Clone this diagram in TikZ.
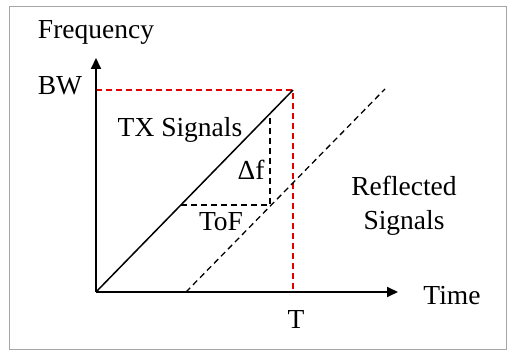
\documentclass[tikz,border=0pt]{standalone}
\usepackage{fontspec}
\setmainfont{Liberation Serif}
\usetikzlibrary{arrows.meta,positioning}

\begin{document}
\begin{tikzpicture}[
  x=1pt, y=-1pt,
  axis/.style={-{Triangle[length=11pt,width=10pt]}, line width=2pt},
  guide/.style={dash pattern=on 6pt off 4pt, draw=red!90!black, line width=1.3pt},
  echo/.style={dash pattern=on 6pt off 4pt, line width=1.3pt},
  chirp/.style={line width=1.5pt},
  lbl/.style={font=\fontsize{27.5}{30}\selectfont, inner sep=0pt, anchor=base}
]
  \useasboundingbox (0,0) rectangle (507,352);
  \draw[gray!70, line width=1pt] (9.5,6.5) rectangle (506.5,349.5);

  % key points of the chirp picture
  \coordinate (o)     at (96,292);
  \coordinate (ytip)  at (96,58);
  \coordinate (xtip)  at (398,292);
  \coordinate (bw)    at (96,90);
  \coordinate (top)   at (293,90);
  \coordinate (t)     at (293,292);
  \coordinate (rx0)   at (186,292);
  \coordinate (rx1)   at (385,89);
  \coordinate (tofL)  at (181,205);
  \coordinate (tofR)  at (270,205);
  \coordinate (dfTop) at (270,114);

  \draw[guide] (bw) -- (top) -- (t);
  \draw[axis] (o) -- (ytip);
  \draw[axis] (o) -- (xtip);
  \draw[chirp] (o) -- (top);
  \draw[echo] (rx0) -- (rx1);
  \draw[echo] (tofL) -- (tofR) -- (dfTop);

  \node[lbl] (freq) at (96,39)  {Frequency};
  \node[lbl] (bwl)  at (60,95)  {BW};
  \node[lbl] (tx)   at (180,137) {TX Signals};
  \node[lbl] (df)   at (251,180) {Δf};
  \node[lbl] (tof)  at (221,231) {ToF};
  \node[lbl] (refl) at (404,196) {Reflected};
  \node[lbl] (sig)  at (404,230) {Signals};
  \node[lbl] (time) at (452,305) {Time};
  \node[lbl] (tl)   at (296,329) {T};
\end{tikzpicture}
\end{document}
